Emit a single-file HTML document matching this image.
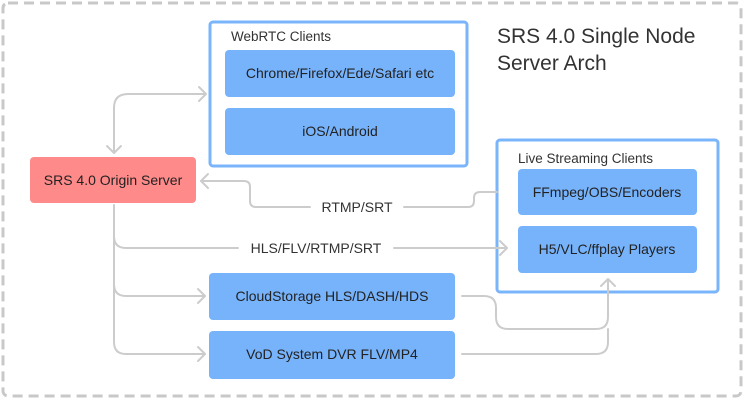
<!DOCTYPE html>
<html><head><meta charset="utf-8"><style>
body{margin:0;width:744px;height:400px;background:#fff;font-family:"Liberation Sans",sans-serif;overflow:hidden}
svg{position:absolute;left:0;top:0}
</style></head><body>
<svg width="744" height="400" viewBox="0 0 744 400" font-family="Liberation Sans, sans-serif">
<rect x="3" y="3" width="738" height="393" rx="5" fill="none" stroke="#c8c8c8" stroke-width="3" stroke-dasharray="10,6"/>
<text x="497" y="43" font-size="21" fill="#333">SRS 4.0 Single Node</text>
<text x="497" y="70" font-size="21" fill="#333">Server Arch</text>
<rect x="210" y="22" width="257" height="144" rx="3" fill="#fff" stroke="#7ab4fa" stroke-width="3"/>
<text x="231" y="41" font-size="13.5" fill="#333">WebRTC Clients</text>
<rect x="225" y="50" width="230" height="47" rx="4" fill="#77b3fb"/>
<text x="340" y="78" font-size="14" fill="#222" text-anchor="middle">Chrome/Firefox/Ede/Safari etc</text>
<rect x="225" y="108" width="230" height="47" rx="4" fill="#77b3fb"/>
<text x="340" y="136" font-size="14" fill="#222" text-anchor="middle">iOS/Android</text>
<rect x="30" y="157" width="166" height="46" rx="4" fill="#ff8a8a"/>
<text x="113" y="185" font-size="14" fill="#222" text-anchor="middle">SRS 4.0 Origin Server</text>
<rect x="497" y="140" width="221" height="152" rx="3" fill="#fff" stroke="#7ab4fa" stroke-width="3"/>
<text x="518" y="163" font-size="13.5" fill="#333">Live Streaming Clients</text>
<rect x="518" y="169" width="179" height="46" rx="4" fill="#77b3fb"/>
<text x="607" y="197" font-size="14" fill="#222" text-anchor="middle">FFmpeg/OBS/Encoders</text>
<rect x="518" y="226" width="179" height="47" rx="4" fill="#77b3fb"/>
<text x="607" y="254" font-size="14" fill="#222" text-anchor="middle">H5/VLC/ffplay Players</text>
<rect x="209" y="273" width="246" height="47" rx="4" fill="#77b3fb"/>
<text x="332" y="301" font-size="14" fill="#222" text-anchor="middle">CloudStorage HLS/DASH/HDS</text>
<rect x="209" y="331" width="246" height="48" rx="4" fill="#77b3fb"/>
<text x="332" y="359" font-size="14" fill="#222" text-anchor="middle">VoD System DVR FLV/MP4</text>
<g fill="none" stroke="#cccccc" stroke-width="2" stroke-linecap="round" stroke-linejoin="round">
<path d="M114 152 V108 Q114 94 128 94 H205"/>
<path d="M199 87 L206 94 L199 101"/>
<path d="M107 146 L114 153 L121 146"/>
<path d="M497 192 H480 Q474 192 474 198 V201 Q474 207 468 207 H404"/>
<path d="M310 207 H256 Q250 207 250 201 V187 Q250 181 244 181 H201"/>
<path d="M208 174 L201 181 L208 188"/>
<path d="M114 205 V236 Q114 248 126 248 H238"/>
<path d="M394 248 H507"/>
<path d="M500 241 L507 248 L500 255"/>
<path d="M114 236 V284 Q114 296 126 296 H205"/>
<path d="M198 289 L205 296 L198 303"/>
<path d="M114 284 V342 Q114 354 126 354 H205"/>
<path d="M198 347 L205 354 L198 361"/>
<path d="M462 296 H484 Q496 296 496 308 V317 Q496 329 508 329 H596 Q608 329 608 317 V280"/>
<path d="M462 354 H596 Q608 354 608 342 V329"/>
<path d="M601 286 L608 279 L615 286"/>
</g>
<text x="357" y="212" font-size="14" fill="#333" text-anchor="middle">RTMP/SRT</text>
<text x="316" y="253" font-size="14" fill="#333" text-anchor="middle">HLS/FLV/RTMP/SRT</text>
</svg>
</body></html>
